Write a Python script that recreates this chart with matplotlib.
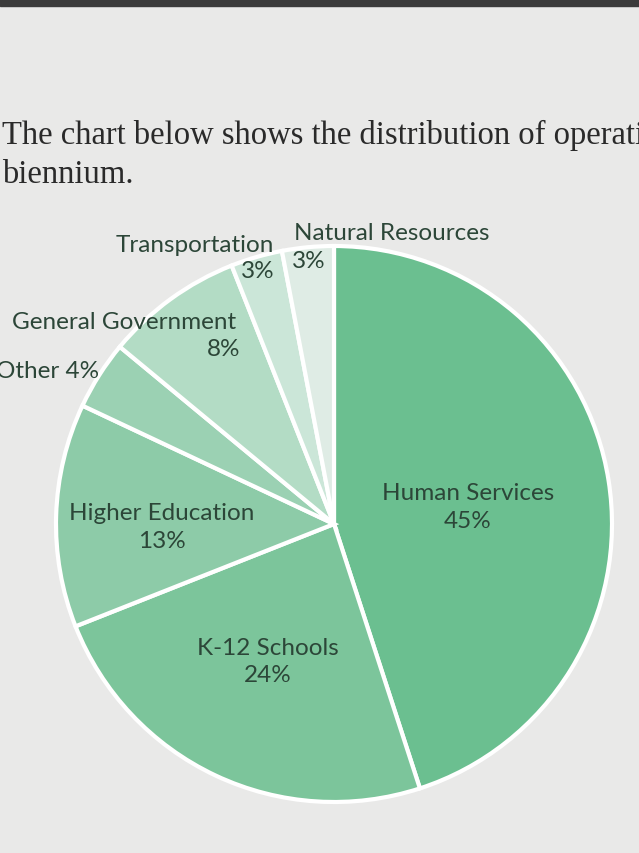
import matplotlib.pyplot as plt

# slice data, clockwise from 12 o'clock
categories = ['Human Services', 'K-12 Schools', 'Higher Education', 'Other',
              'General Government', 'Transportation', 'Natural Resources']
shares = [45, 24, 13, 4, 8, 3, 3]
colors = ['#6bbf90', '#7cc59b', '#8dcba8', '#9bd1b3', '#b3dcc5', '#cbe6d8', '#dfece5']

W, H = 639, 854
fig = plt.figure(figsize=(W / 100, H / 100), dpi=100)
fig.patch.set_facecolor('#e9e9e8')

# dark strip of the monitor bezel at the top
fig.add_artist(plt.Rectangle((0, 1 - 7 / H), 1, 7 / H, transform=fig.transFigure,
                             color='#3b3b3b', zorder=0))

# intro text (runs off the right edge, as in the photo)
serif = ['Liberation Serif', 'DejaVu Serif']
fig.text(2 / W, 1 - 144 / H, 'The chart below shows the distribution of operating',
         family=serif, fontsize=23.5, color='#2a2a2a')
fig.text(2 / W, 1 - 183 / H, 'biennium.', family=serif, fontsize=23.5, color='#2a2a2a')

# pie
cx, cy, r = 334, 525, 278
ax = fig.add_axes([(cx - r) / W, 1 - (cy + r) / H, 2 * r / W, 2 * r / H])
ax.pie(shares, colors=colors, startangle=90, counterclock=False,
       wedgeprops=dict(edgecolor='white', linewidth=3))
ax.set_xlim(-1, 1)
ax.set_ylim(-1, 1)
ax.set_aspect('equal')
ax.axis('off')

# slice labels (pixel positions of the text centres)
lab = dict(family=['Lato', 'DejaVu Sans'], fontsize=17.5, color='#2c4638')
label_pos = {
    'Human Services': [(468, 494, 'Human Services'), (468, 521, '45%')],
    'K-12 Schools': [(268, 649, 'K-12 Schools'), (268, 676, '24%')],
    'Higher Education': [(162, 513, 'Higher Education'), (162, 541, '13%')],
    'General Government': [(124, 323, 'General Government'), (224, 350, '8%')],
    'Transportation': [(195, 245, 'Transportation'), (258, 272, '3%')],
    'Natural Resources': [(392, 234, 'Natural Resources'), (309, 261, '3%')],
}
for name, pct in zip(categories, shares):
    if name == 'Other':
        fig.text(-4 / W, 1 - 372 / H, f'Other {pct}%', ha='left', va='center', **lab)
        continue
    for x, y, s in label_pos[name]:
        fig.text(x / W, 1 - y / H, s, ha='center', va='center', **lab)

fig.savefig('out.png', dpi=100, facecolor=fig.get_facecolor())
